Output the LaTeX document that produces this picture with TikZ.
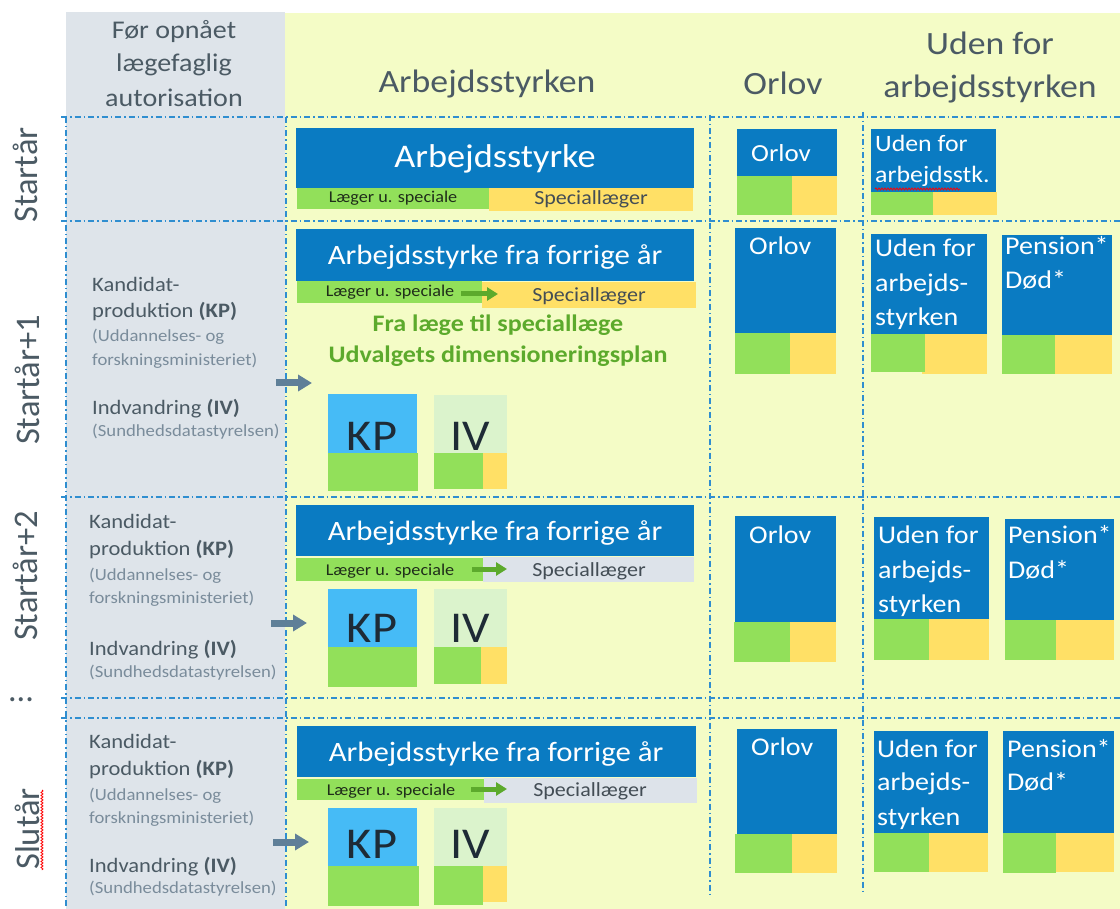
\documentclass[tikz,border=0pt]{standalone}
\usepackage{fontspec}
\setmainfont[FakeStretch=1.1]{Carlito}
\newfontfamily\rowfont{Carlito}
\usetikzlibrary{arrows.meta,decorations.pathmorphing}

\definecolor{boxBlue}{HTML}{0A7BC2}
\definecolor{barGreen}{HTML}{92E05A}
\definecolor{barYellow}{HTML}{FFE066}
\definecolor{barGray}{HTML}{DDE3EA}
\definecolor{kpBlue}{HTML}{46BBF6}
\definecolor{ivGreen}{HTML}{DBF3CC}
\definecolor{colGray}{HTML}{DEE4EA}
\definecolor{bgYellow}{HTML}{F4FCC6}
\definecolor{gridBlue}{HTML}{2F8ED0}
\definecolor{headText}{HTML}{4B5A64}
\definecolor{parenText}{HTML}{7A8C9B}
\definecolor{planGreen}{HTML}{5CAA2C}
\definecolor{arrGray}{HTML}{5F7F98}
\definecolor{kpText}{HTML}{1E2B36}
\definecolor{lgText}{HTML}{1F2D1A}
\definecolor{spText}{HTML}{434D55}

\tikzset{
  gridline/.style={gridBlue, line width=1.3pt, dash pattern=on 6pt off 3pt on 1.5pt off 3pt},
  hdr/.style={text=headText, inner sep=0pt, anchor=base, font=\fontsize{32.5}{38}\selectfont},
  colhdr/.style={hdr, font=\fontsize{25.5}{30}\selectfont},
  rowlbl/.style={text=headText, inner sep=0pt, rotate=90, font=\rowfont\fontsize{34.5}{40}\selectfont},
  boxtxt/.style={text=white, inner sep=0pt, anchor=base west, font=\fontsize{25.5}{30}\selectfont},
  bigtxt/.style={text=white, inner sep=0pt, anchor=base, font=\fontsize{28}{34}\selectfont},
  lgtxt/.style={text=lgText, inner sep=0pt, anchor=base, font=\fontsize{16.5}{20}\selectfont},
  sptxt/.style={text=spText, inner sep=0pt, anchor=base, font=\fontsize{20}{24}\selectfont},
  srcmain/.style={text=headText, inner sep=0pt, anchor=base west, font=\fontsize{20.5}{24}\selectfont},
  srcpar/.style={text=parenText, inner sep=0pt, anchor=base west, font=\fontsize{17}{21}\selectfont},
  kptxt/.style={text=kpText, inner sep=0pt, anchor=base, font=\fontsize{44}{50}\selectfont},
  plantxt/.style={text=planGreen, inner sep=0pt, anchor=base, font=\bfseries\fontsize{23.7}{28}\selectfont},
  flowarr/.style={arrGray, line width=7pt, -{Triangle[length=14pt,width=16pt]}},
  specarr/.style={planGreen, line width=5pt, -{Triangle[length=11pt,width=13pt]}},
  spell/.style={red, line width=0.8pt, decorate, decoration={snake, amplitude=1pt, segment length=3pt}}
}

\begin{document}
\begin{tikzpicture}[x=1pt,y=-1pt]
\useasboundingbox (0,0) rectangle (1120,909);

% backgrounds
\fill[colGray] (66,12) rectangle (285,909);
\fill[bgYellow] (285,13) rectangle (1120,909);

% column headers
\node[colhdr] (hfor1) at (174,39) {Før opnået};
\node[colhdr] (hfor2) at (174,72) {lægefaglig};
\node[colhdr] (hfor3) at (174,107) {autorisation};
\node[hdr] (harb) at (487,93) {Arbejdsstyrken};
\node[hdr] (horl) at (783,95) {Orlov};
\node[hdr] (hud1) at (990,55) {Uden for};
\node[hdr] (hud2) at (990,98) {arbejdsstyrken};

% grid
\draw[gridline] (61,117) -- (1120,117);
\draw[gridline] (61,221) -- (1120,221);
\draw[gridline] (61,497) -- (1120,497);
\draw[gridline] (61,698) -- (1120,698);
\draw[gridline] (61,718) -- (1120,718);
\draw[gridline] (66,117) -- (66,909);
\draw[gridline] (286,117) -- (286,909);
\draw[gridline] (710,115) -- (710,898);
\draw[gridline] (863,112) -- (863,895);

% row labels
\node[rowlbl] (r1) at (25,175) {Startår};
\node[rowlbl] (r2) at (27,380) {Startår+1};
\node[rowlbl] (r3) at (25,576) {Startår+2};
\node[text=headText, inner sep=0pt, font=\rowfont\fontsize{34}{40}\selectfont] (rdots) at (21,700) {...};
\node[rowlbl] (r4) at (27,829) {Slutår};
\draw[spell] (42,790) -- (42,870);

% Startaar
\fill[boxBlue] (296,128) rectangle (694,188);
\fill[barGreen] (297,188) rectangle (489,209);
\fill[barYellow] (489,188) rectangle (693,211);
\node[bigtxt, font=\fontsize{33}{38}\selectfont] (arb1) at (495,168) {Arbejdsstyrke};
\node[lgtxt] (lg1) at (393,203) {Læger u. speciale};
\node[sptxt] (sp1) at (591,205) {Speciallæger};
\fill[boxBlue] (737,129) rectangle (837,176);
\fill[barGreen] (737,176) rectangle (792,215);
\fill[barYellow] (792,176) rectangle (837,215);
\node[boxtxt, font=\fontsize{24.5}{30}\selectfont] (orl1) at (751,162) {Orlov};
\fill[boxBlue] (871,129) rectangle (996,192);
\fill[barGreen] (871,192) rectangle (933,215);
\fill[barYellow] (933,192) rectangle (997,215);
\node[boxtxt, font=\fontsize{23.5}{28}\selectfont] (ud1a) at (875,152) {Uden for};
\node[boxtxt, font=\fontsize{23.5}{28}\selectfont] (ud1b) at (875,183) {arbejdsstk.};
\draw[spell] (875,189) -- (960,189);

% Startaar+1
\node[srcmain] (kp2a) at (92,292) {Kandidat-};
\node[srcmain] (kp2b) at (92,318) {produktion \textbf{(KP)}};
\node[srcpar] (kp2c) at (92,342) {(Uddannelses- og};
\node[srcpar] (kp2d) at (92,366) {forskningsministeriet)};
\node[srcmain] (iv2a) at (92,415) {Indvandring \textbf{(IV)}};
\node[srcpar] (iv2b) at (92,437) {(Sundhedsdatastyrelsen)};
\coordinate (in2s) at (276,383);
\coordinate (in2e) at (312,383);
\draw[flowarr] (in2s) -- (in2e);
\fill[boxBlue] (296,229) rectangle (694,281);
\fill[barGreen] (297,281) rectangle (482,303);
\fill[barYellow] (482,282) rectangle (696,308);
\node[bigtxt] (arb2) at (495,265) {Arbejdsstyrke fra forrige år};
\node[lgtxt] (lg2) at (390,297) {Læger u. speciale};
\node[sptxt] (sp2) at (589,302) {Speciallæger};
\coordinate (sa2s) at (461,294);
\coordinate (sa2e) at (498,294);
\draw[specarr] (sa2s) -- (sa2e);
\node[plantxt] (pl2a) at (498,332) {Fra læge til speciallæge};
\node[plantxt] (pl2b) at (498,363) {Udvalgets dimensioneringsplan};
\fill[kpBlue] (328,394) rectangle (417,453);
\fill[barGreen] (328,453) rectangle (418,491);
\node[kptxt] (kp2) at (372,450) {KP};
\fill[ivGreen] (434,395) rectangle (507,453);
\fill[barGreen] (434,453) rectangle (483,489);
\fill[barYellow] (483,453) rectangle (507,489);
\node[kptxt] (iv2) at (470,450) {IV};
\fill[boxBlue] (735,228) rectangle (836,333);
\fill[barGreen] (735,333) rectangle (790,374);
\fill[barYellow] (790,333) rectangle (836,374);
\node[boxtxt] (orl2) at (749,255) {Orlov};
\fill[boxBlue] (871,234) rectangle (987,334);
\fill[barYellow] (922,334) rectangle (987,374);
\fill[barGreen] (871,334) rectangle (925,372);
\node[boxtxt] (ud2a) at (875,257) {Uden for};
\node[boxtxt] (ud2b) at (875,292) {arbejds-};
\node[boxtxt] (ud2c) at (875,326) {styrken};
\fill[boxBlue] (1002,235) rectangle (1112,335);
\fill[barGreen] (1002,335) rectangle (1055,374);
\fill[barYellow] (1055,335) rectangle (1112,374);
\node[boxtxt] (pe2a) at (1005,255) {Pension*};
\node[boxtxt] (pe2b) at (1005,289) {Død*};

% Startaar+2
\node[srcmain] (kp3a) at (89,528) {Kandidat-};
\node[srcmain] (kp3b) at (89,555) {produktion \textbf{(KP)}};
\node[srcpar] (kp3c) at (89,580) {(Uddannelses- og};
\node[srcpar] (kp3d) at (89,603) {forskningsministeriet)};
\node[srcmain] (iv3a) at (89,655) {Indvandring \textbf{(IV)}};
\node[srcpar] (iv3b) at (89,677) {(Sundhedsdatastyrelsen)};
\coordinate (in3s) at (271,623);
\coordinate (in3e) at (307,623);
\draw[flowarr] (in3s) -- (in3e);
\fill[boxBlue] (296,505) rectangle (694,556);
\fill[barGreen] (296,558) rectangle (483,581);
\fill[barGray] (483,557) rectangle (694,582);
\node[bigtxt] (arb3) at (495,540) {Arbejdsstyrke fra forrige år};
\node[lgtxt] (lg3) at (390,575) {Læger u. speciale};
\node[sptxt] (sp3) at (589,576) {Speciallæger};
\coordinate (sa3s) at (472,569);
\coordinate (sa3e) at (507,569);
\draw[specarr] (sa3s) -- (sa3e);
\fill[kpBlue] (328,589) rectangle (417,647);
\fill[barGreen] (328,647) rectangle (417,687);
\node[kptxt] (kp3) at (372,642) {KP};
\fill[ivGreen] (434,589) rectangle (507,647);
\fill[barGreen] (434,647) rectangle (481,684);
\fill[barYellow] (481,647) rectangle (507,684);
\node[kptxt] (iv3) at (470,642) {IV};
\fill[boxBlue] (735,516) rectangle (836,622);
\fill[barGreen] (734,622) rectangle (790,662);
\fill[barYellow] (790,622) rectangle (836,662);
\node[boxtxt] (orl3) at (749,543) {Orlov};
\fill[boxBlue] (874,517) rectangle (989,619);
\fill[barGreen] (874,619) rectangle (929,660);
\fill[barYellow] (929,619) rectangle (989,660);
\node[boxtxt] (ud3a) at (878,543) {Uden for};
\node[boxtxt] (ud3b) at (878,578) {arbejds-};
\node[boxtxt] (ud3c) at (878,612) {styrken};
\fill[boxBlue] (1005,519) rectangle (1114,620);
\fill[barGreen] (1005,620) rectangle (1056,660);
\fill[barYellow] (1056,620) rectangle (1114,660);
\node[boxtxt] (pe3a) at (1008,543) {Pension*};
\node[boxtxt] (pe3b) at (1008,578) {Død*};

% Slutaar
\node[srcmain] (kp4a) at (89,748) {Kandidat-};
\node[srcmain] (kp4b) at (89,775) {produktion \textbf{(KP)}};
\node[srcpar] (kp4c) at (89,800) {(Uddannelses- og};
\node[srcpar] (kp4d) at (89,823) {forskningsministeriet)};
\node[srcmain] (iv4a) at (89,872) {Indvandring \textbf{(IV)}};
\node[srcpar] (iv4b) at (89,893) {(Sundhedsdatastyrelsen)};
\coordinate (in4s) at (273,842);
\coordinate (in4e) at (309,842);
\draw[flowarr] (in4s) -- (in4e);
\fill[boxBlue] (297,726) rectangle (696,777);
\fill[barGreen] (297,779) rectangle (484,800);
\fill[barGray] (484,778) rectangle (697,803);
\node[bigtxt] (arb4) at (496,761) {Arbejdsstyrke fra forrige år};
\node[lgtxt] (lg4) at (391,795) {Læger u. speciale};
\node[sptxt] (sp4) at (590,796) {Speciallæger};
\coordinate (sa4s) at (471,789);
\coordinate (sa4e) at (507,789);
\draw[specarr] (sa4s) -- (sa4e);
\fill[kpBlue] (328,808) rectangle (417,866);
\fill[barGreen] (328,866) rectangle (419,906);
\node[kptxt] (kp4) at (372,858) {KP};
\fill[ivGreen] (434,808) rectangle (507,866);
\fill[barGreen] (434,866) rectangle (483,905);
\fill[barYellow] (483,866) rectangle (507,902);
\node[kptxt] (iv4) at (470,858) {IV};
\fill[boxBlue] (737,729) rectangle (837,834);
\fill[barGreen] (735,834) rectangle (792,873);
\fill[barYellow] (792,834) rectangle (837,873);
\node[boxtxt] (orl4) at (751,755) {Orlov};
\fill[boxBlue] (874,731) rectangle (988,833);
\fill[barGreen] (874,833) rectangle (929,872);
\fill[barYellow] (929,833) rectangle (988,872);
\node[boxtxt] (ud4a) at (877,757) {Uden for};
\node[boxtxt] (ud4b) at (877,790) {arbejds-};
\node[boxtxt] (ud4c) at (877,825) {styrken};
\fill[boxBlue] (1003,731) rectangle (1114,833);
\fill[barGreen] (1003,833) rectangle (1056,873);
\fill[barYellow] (1056,833) rectangle (1114,872);
\node[boxtxt] (pe4a) at (1007,757) {Pension*};
\node[boxtxt] (pe4b) at (1007,790) {Død*};

\end{tikzpicture}
\end{document}
